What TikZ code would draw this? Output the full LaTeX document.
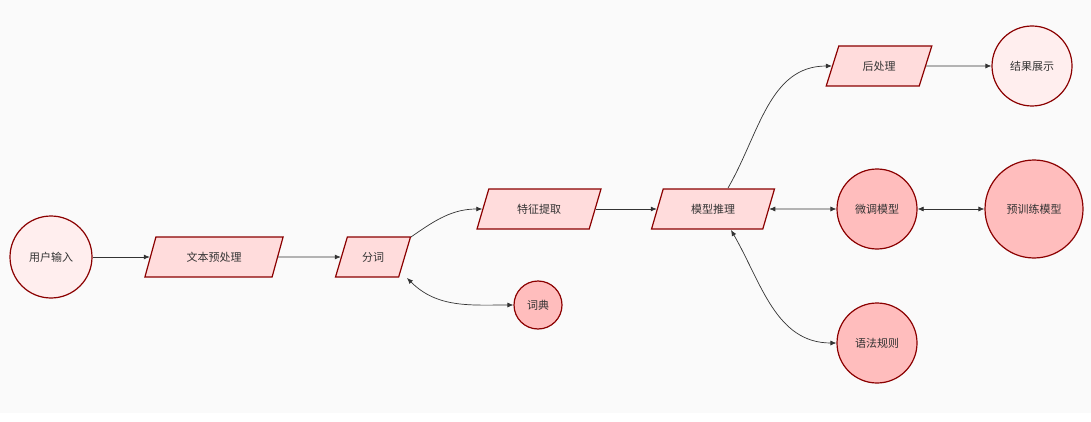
\documentclass[tikz,border=0pt]{standalone}
\usepackage{fontspec}
\setmainfont{Noto Sans CJK SC}
\usetikzlibrary{shapes.geometric,arrows.meta}
\definecolor{st}{HTML}{8B0000}
\definecolor{pf}{HTML}{FFDCDC}
\definecolor{lf}{HTML}{FFEEEE}
\definecolor{df}{HTML}{FFBDBD}
\definecolor{ln}{HTML}{333333}
\begin{document}
\begin{tikzpicture}[x=1pt,y=-1pt,
  base/.style={draw=st,line width=1.2pt,text=ln,font=\fontsize{11}{13}\selectfont,inner sep=0pt},
  para/.style={base,fill=pf,trapezium,trapezium left angle=63,trapezium right angle=117,trapezium stretches=true,minimum height=40pt},
  circ/.style={base,circle,fill=lf},
  dcirc/.style={base,circle,fill=df},
  ar/.style={draw=ln,line width=0.7pt,-{Latex[length=6pt,width=5pt]}},
  dar/.style={draw=ln,line width=0.7pt,{Latex[length=6pt,width=5pt]}-{Latex[length=6pt,width=5pt]}}]
\fill[white] (0,0) rectangle (1091,422);
\fill[black!2] (0,0) rectangle (1091,413);
\node[circ,minimum size=82pt] (u) at (51,257) {用户输入};
\node[para,minimum width=139pt] (t) at (214,257) {文本预处理};
\node[para,minimum width=75pt] (f) at (373,257) {分词};
\node[dcirc,minimum size=48pt] (c) at (538,305) {词典};
\node[para,minimum width=124pt] (x) at (539,209) {特征提取};
\node[para,minimum width=123pt] (m) at (713,209) {模型推理};
\node[para,minimum width=106pt] (h) at (879,66) {后处理};
\node[circ,minimum size=80pt] (r) at (1032,66) {结果展示};
\node[dcirc,minimum size=80pt] (w) at (877,209) {微调模型};
\node[dcirc,minimum size=98pt] (p) at (1034,209) {预训练模型};
\node[dcirc,minimum size=80pt] (g) at (877,343) {语法规则};
\coordinate (f1) at (411,237);
\coordinate (f2) at (407,278);
\coordinate (m1) at (728,188);
\coordinate (m2) at (731,230);
\draw[ar] (u) -- (t);
\draw[ar] (t) -- (f);
\draw[ar] (f1) to[out=35,in=180] (x.west);
\draw[dar] (f2) to[out=-45,in=180] (c.west);
\draw[ar] (x) -- (m);
\draw[ar] (m1) to[out=60,in=180] (h.west);
\draw[ar] (h) -- (r);
\draw[dar] (m) -- (w);
\draw[dar] (w) -- (p);
\draw[dar] (m2) to[out=-60,in=180] (g.west);
\end{tikzpicture}
\end{document}
